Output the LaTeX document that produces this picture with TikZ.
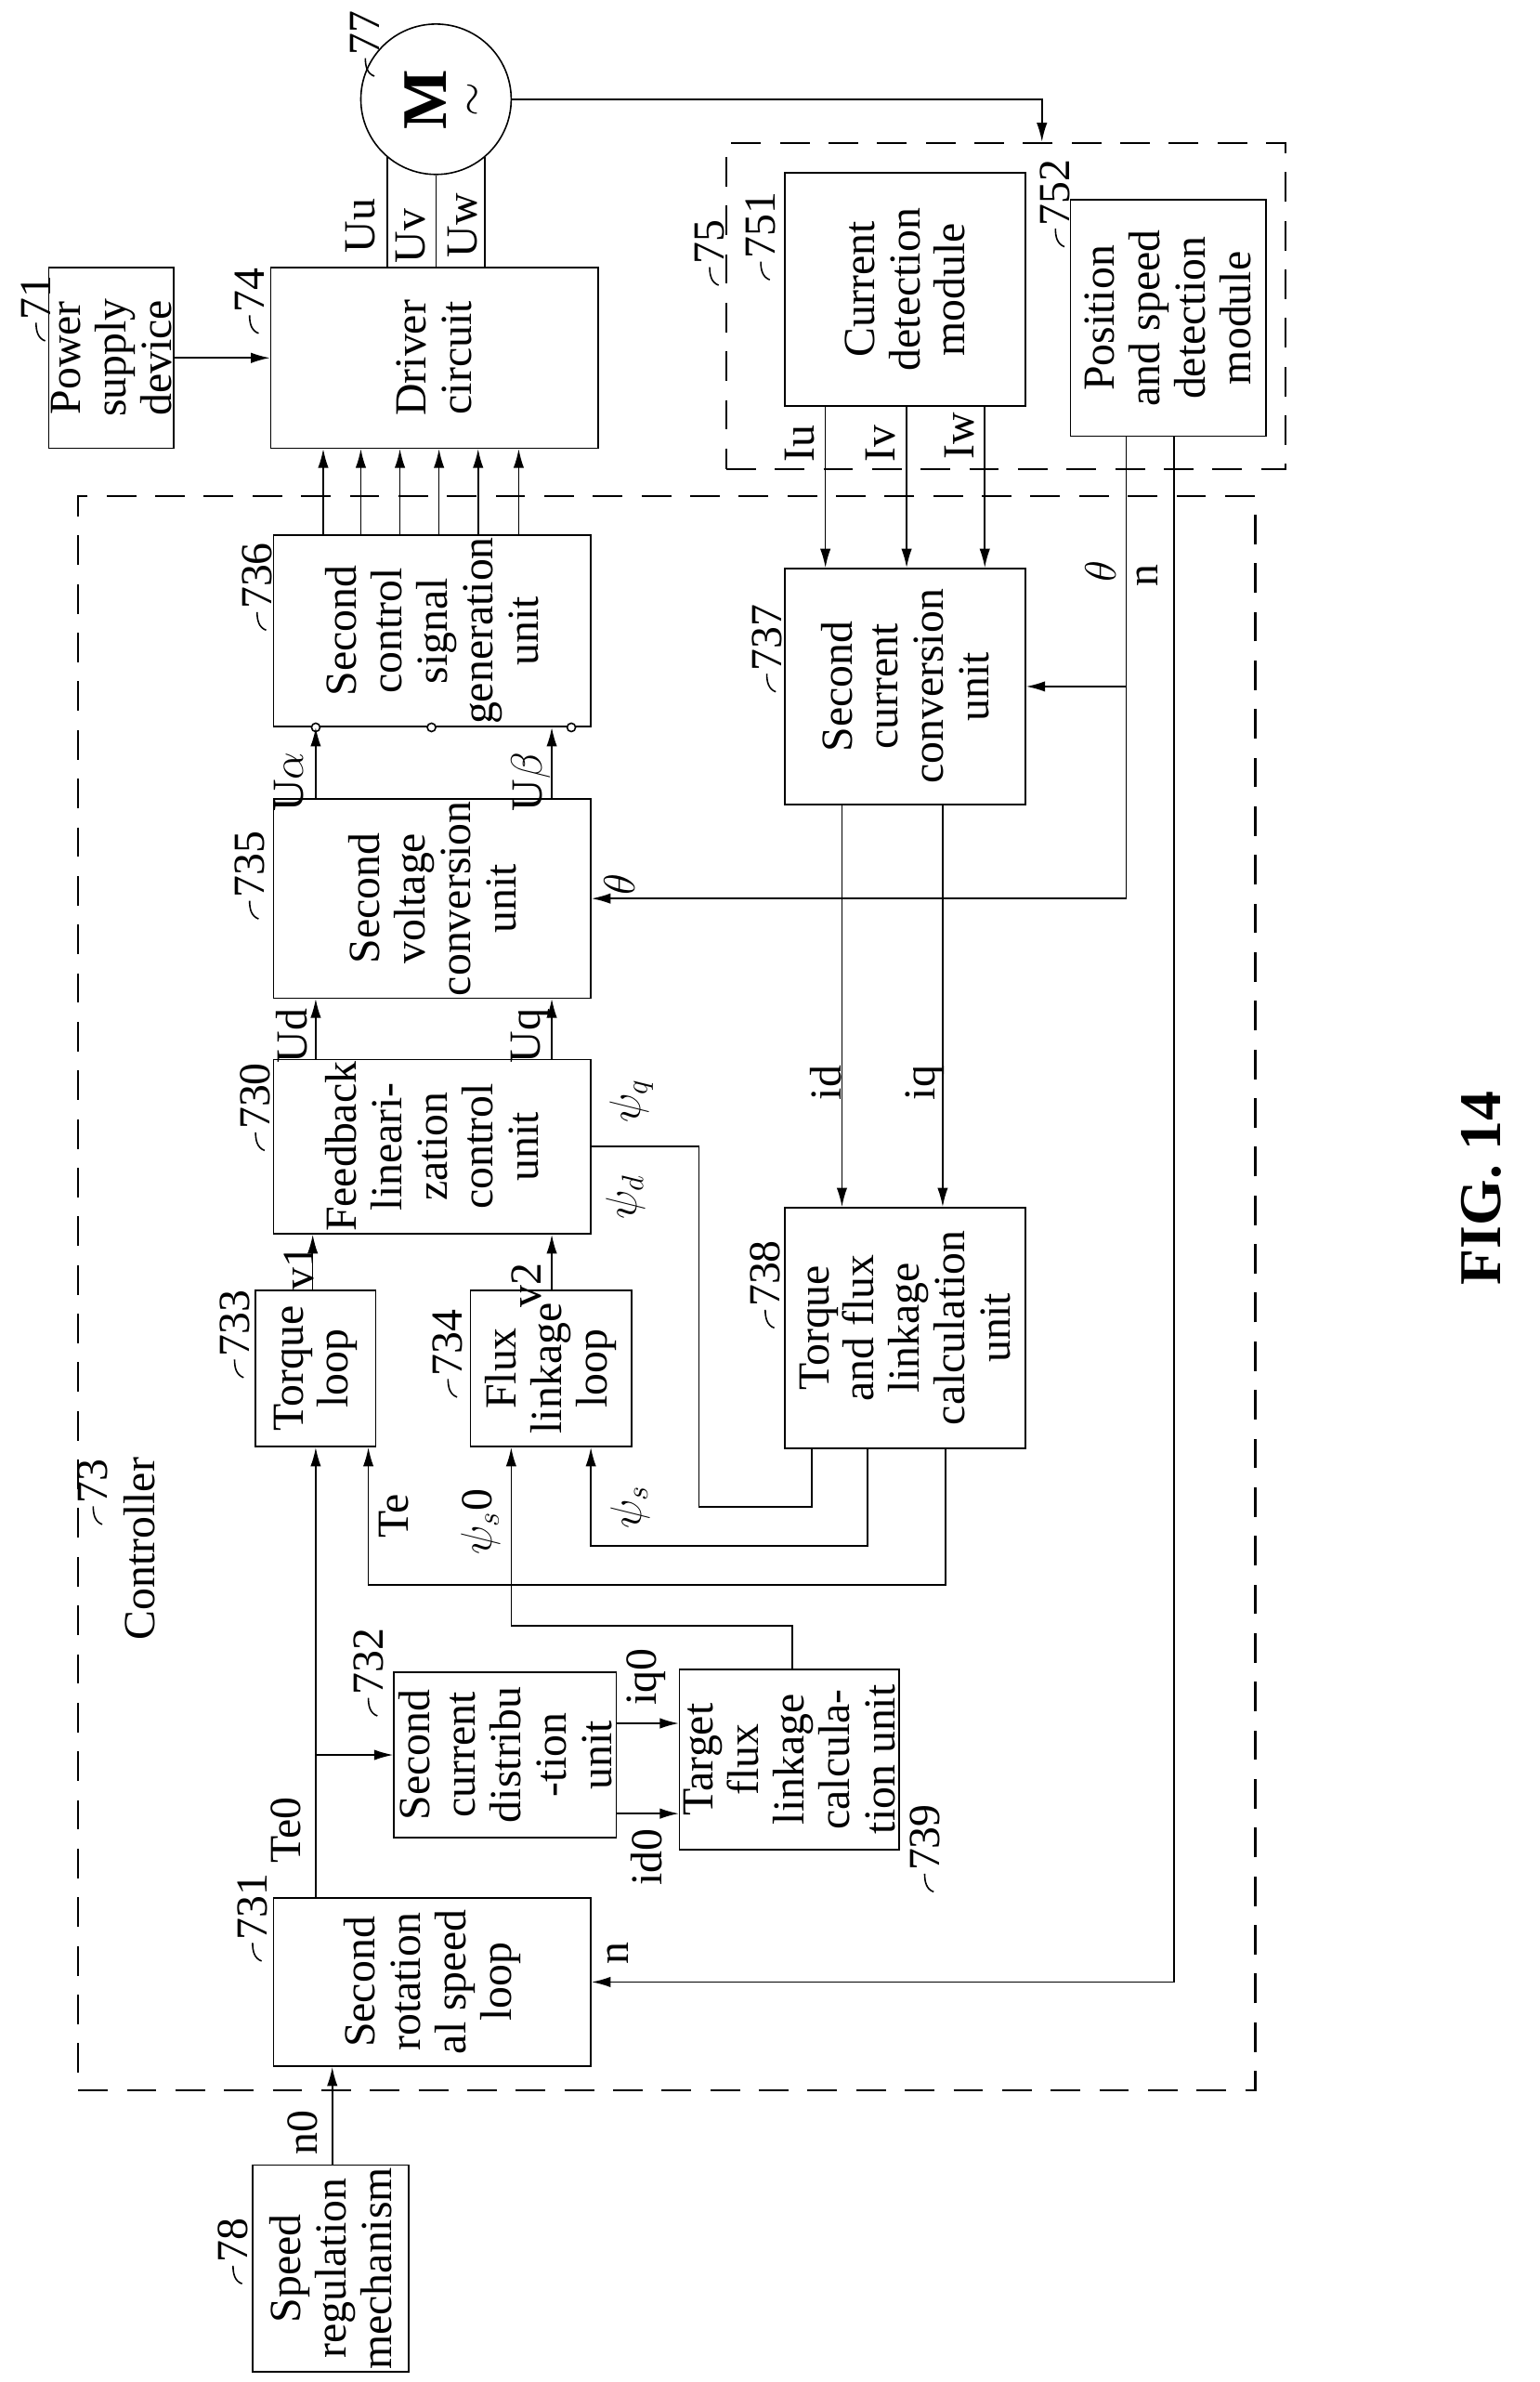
\documentclass[tikz,border=0pt]{standalone}
\usepackage{fontspec}
\setmainfont{Liberation Serif}
\usepackage{tikz}
\usetikzlibrary{arrows.meta}
\newcommand\px{0.025cm}
\newcommand\refno[4]{\node[lbl] (#1) at (#2,#3) {#4};
  \draw (#1.west) to[out=-90,in=160] ++(6,12);}

\begin{document}
\begin{tikzpicture}[x=0.025cm,y=-0.025cm,line width=0.7pt,
    blk/.style={draw,rotate=90,align=center,inner sep=1pt,font=\fontsize{21}{21.5}\selectfont},
    lbl/.style={rotate=90,inner sep=1pt,font=\fontsize{21}{21.5}\selectfont},
    dbox/.style={draw,dash pattern=on 14pt off 9pt,line width=1pt},
    arr/.style={-{Latex[length=9pt,width=5pt]}}]
    \useasboundingbox (0,0) rectangle (1024,1584);

    % Dashed groups
    \node[dbox,minimum width=372*\px,minimum height=217*\px] (g75) at (669,203.5) {};
    \node[dbox,minimum width=783*\px,minimum height=1060*\px] (g73) at (443.5,860) {};

    % Top row
    \node[draw,circle,minimum size=100*\px] (mot) at (290,66) {};
    \node[rotate=90,font=\fontsize{30}{30}\selectfont\bfseries] at (283,66) {M};
    \node[rotate=90,font=\fontsize{22}{22}\selectfont] at (316,66) {$\sim$};
    \node[blk,minimum width=120*\px,minimum height=72*\px] (psd) at (74,238) {Power\\supply\\device};
    \node[blk,minimum width=120*\px,minimum height=218*\px] (drv) at (289,238) {Driver\\circuit};
    \node[blk,minimum width=155*\px,minimum height=160*\px] (cdm) at (602,192.5) {Current\\detection\\module};
    \node[blk,minimum width=157*\px,minimum height=130*\px] (psm) at (777,211.5) {Position\\and speed\\detection\\module};

    % Controller blocks
    \node[blk,minimum width=125*\px,minimum height=211*\px] (csg) at (287.5,419.5) {Second\\control\\signal\\generation\\unit};
    \node[blk,minimum width=157*\px,minimum height=160*\px] (ccu) at (602,456.5) {Second\\current\\conversion\\unit};
    \node[blk,minimum width=125*\px,minimum height=211*\px] (svc) at (287.5,597.5) {Second\\voltage\\conversion\\unit};
    \node[blk,minimum width=105*\px,minimum height=211*\px] (flc) at (287.5,762.5) {Feedback\\lineari-\\zation\\control\\unit};
    \node[blk,minimum width=104*\px,minimum height=80*\px] (tql) at (210,910) {Torque\\loop};
    \node[blk,minimum width=104*\px,minimum height=107*\px] (fll) at (366.5,910) {Flux\\linkage\\loop};
    \node[blk,minimum width=160*\px,minimum height=160*\px] (tfc) at (602,883) {Torque\\and flux\\linkage\\calculation\\unit};
    \node[blk,minimum width=110*\px,minimum height=148*\px] (cdu) at (336,1167) {Second\\current\\distribu\\-tion\\unit};
    \node[blk,minimum width=120*\px,minimum height=146*\px] (tfl) at (525,1170) {Target\\flux\\linkage\\calcula-\\tion unit};
    \node[blk,minimum width=112*\px,minimum height=211*\px] (srl) at (287.5,1318) {Second\\rotation\\al speed\\loop};
    \node[blk,minimum width=127*\px,minimum height=104*\px] (srm) at (220,1508.5) {Speed\\regulation\\mechanism};

    % Reference numbers
    \refno{r77}{243}{22}{77}
    \refno{r71}{24}{198}{71}
    \refno{r74}{166}{193}{74}
    \refno{r75}{472}{161}{75}
    \refno{r751}{506}{150}{751}
    \refno{r752}{702}{128}{752}
    \refno{r736}{171}{383}{736}
    \refno{r737}{510}{424}{737}
    \refno{r735}{166}{575}{735}
    \refno{r730}{170}{729}{730}
    \refno{r733}{156}{880}{733}
    \refno{r734}{298}{893}{734}
    \refno{r738}{509}{847}{738}
    \refno{r73}{62}{985}{73}
    \refno{r732}{245}{1105}{732}
    \refno{r739}{615}{1222}{739}
    \refno{r731}{168}{1268}{731}
    \refno{r78}{155}{1490}{78}
    \node[lbl] (ctl) at (93,1030) {Controller};

    % Power and motor
    \draw[arr] (psd.south) -- (drv.north);
    \draw (mot.230) -- (mot.230 |- drv.east);
    \draw (mot.270) -- (mot.270 |- drv.east);
    \draw (mot.310) -- (mot.310 |- drv.east);
    \draw[arr] (mot.east) -| (693,0 |- g75.north);
    \node[lbl] at (240,150) {Uu};
    \node[lbl] at (273,157) {Uv};
    \node[lbl] at (308,150) {Uw};

    % Detection
    \foreach \xx/\tt/\yy in {549/Iu/295,603/Iv/295,655/Iw/290}{
        \draw[arr] (\xx,0 |- cdm.west) -- (\xx,0 |- ccu.east);
        \node[lbl] at (\xx-17,\yy) {\tt};
    }
    \draw[arr] (749,0 |- psm.west) |- (svc.south);
    \draw[arr] (749,0 |- ccu.south) -- (ccu.south);
    \draw[arr] (781,0 |- psm.west) |- (srl.south);
    \node[lbl] at (732,380) {$\theta$};
    \node[lbl] at (763,383) {n};
    \node[lbl] at (412,588) {$\theta$};
    \node[lbl] at (411,1299) {n};

    % Signal generation
    \foreach \xx in {215,240,266,292,318,345}
        \draw[arr] (\xx,0 |- csg.east) -- (\xx,0 |- drv.west);
    \foreach \xx in {210,287,380}
        \draw[fill=white] (\xx,0 |- csg.west) circle (2pt);

    % Voltage path
    \draw[arr] (210,0 |- svc.east) -- (210,0 |- csg.west);
    \draw[arr] (367,0 |- svc.east) -- (367,0 |- csg.west);
    \draw[arr] (210,0 |- flc.east) -- (210,0 |- svc.west);
    \draw[arr] (367,0 |- flc.east) -- (367,0 |- svc.west);
    \draw[arr] (208,0 |- tql.east) -- (208,0 |- flc.west);
    \draw[arr] (367,0 |- fll.east) -- (367,0 |- flc.west);
    \node[lbl] at (192,520) {U$\alpha$};
    \node[lbl] at (353,520) {U$\beta$};
    \node[lbl] at (194,689) {Ud};
    \node[lbl] at (353,689) {Uq};
    \node[lbl] at (420,732) {$\psi_q$};
    \node[lbl] at (416,796) {$\psi_d$};
    \node[lbl] at (199,843) {v1};
    \node[lbl] at (350,855) {v2};

    % Currents and feedback
    \draw[arr] (560,0 |- ccu.west) -- (560,0 |- tfc.east);
    \draw[arr] (627,0 |- ccu.west) -- (627,0 |- tfc.east);
    \node[lbl] at (549,720) {id};
    \node[lbl] at (615,720) {iq};
    \draw (flc.south) -| (465,1002) -| (540,0 |- tfc.west);
    \draw[arr] (577,0 |- tfc.west) |- (393,1028) -- (393,0 |- fll.west);
    \draw[arr] (629,0 |- tfc.west) |- (245,1054) -- (245,0 |- tql.west);
    \node[lbl] at (262,1008) {Te};
    \node[lbl] at (419,1002) {$\psi_s$};
    \node[lbl] at (320,1012) {$\psi_s$0};

    % Targets
    \draw[arr] (210,0 |- srl.east) -- (210,0 |- tql.west);
    \draw[arr] (210,0 |- cdu.north) -- (cdu.north);
    \draw[arr] (cdu.south |- 0,1146) -- (tfl.north |- 0,1146);
    \draw[arr] (cdu.south |- 0,1206) -- (tfl.north |- 0,1206);
    \draw[arr] (527,0 |- tfl.east) |- (340,1081) -- (340,0 |- fll.west);
    \draw[arr] (221,0 |- srm.east) -- (221,0 |- srl.west);
    \node[lbl] at (190,1217) {Te0};
    \node[lbl] at (430,1115) {iq0};
    \node[lbl] at (430,1235) {id0};
    \node[lbl] at (201,1418) {n0};

    \node[rotate=90,font=\fontsize{28}{28}\selectfont\bfseries] (fig) at (985,790) {FIG. 14};
\end{tikzpicture}
\end{document}
